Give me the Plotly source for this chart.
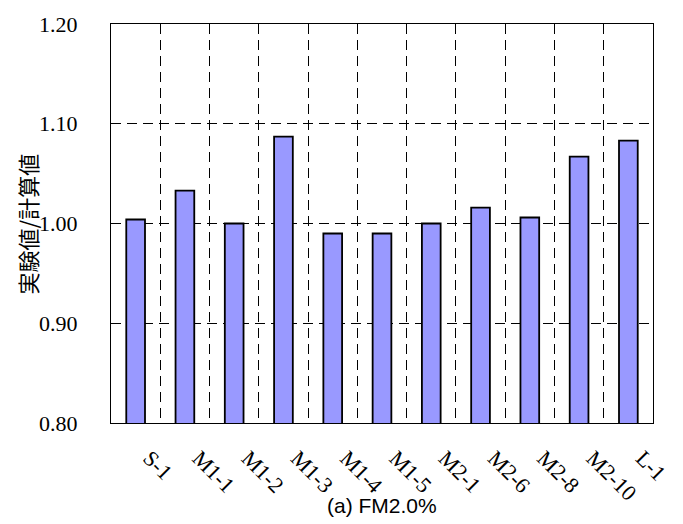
import plotly.graph_objects as go

categories = ["S-1", "M1-1", "M1-2", "M1-3", "M1-4", "M1-5", "M2-1", "M2-6", "M2-8", "M2-10", "L-1"]
ratios = [1.004, 1.033, 1.000, 1.087, 0.990, 0.990, 1.000, 1.016, 1.006, 1.067, 1.083]
y_ticks = [0.80, 0.90, 1.00, 1.10, 1.20]
y_title = "実験値/計算値"
x_title = "(a) FM2.0%"

serif = "Liberation Serif, Times New Roman, serif"

fig = go.Figure()
fig.add_trace(go.Bar(
    x=categories, y=ratios,
    marker=dict(color="#9999FF", line=dict(color="black", width=1.8)),
    hoverinfo="skip",
))
# invisible carrier for the label axis
fig.add_trace(go.Scatter(
    x=categories, y=ratios, xaxis="x2", mode="markers",
    marker=dict(opacity=0), hoverinfo="skip",
))

fig.update_layout(
    width=683, height=524,
    margin=dict(l=111, r=17, t=18, b=101),
    plot_bgcolor="white", paper_bgcolor="white",
    bargap=0.62, showlegend=False,
    font=dict(family=serif, size=21, color="black"),
    xaxis=dict(
        type="category", tickson="boundaries", range=[-0.5, 10.5],
        showgrid=True, gridcolor="black", gridwidth=1, griddash="10px,6px",
        showline=True, linecolor="black", linewidth=1, mirror=True,
        ticks="", showticklabels=False,
    ),
    xaxis2=dict(
        type="category", overlaying="x", side="bottom", anchor="y",
        categoryorder="array", categoryarray=categories,
        range=[-0.78, 10.22], showgrid=False, showline=False, zeroline=False,
        ticks="", tickangle=45, ticklabelstandoff=17,
        tickfont=dict(family=serif, size=22),
    ),
    yaxis=dict(
        range=[0.80, 1.20], tickvals=y_ticks, tickformat=".2f",
        showgrid=True, gridcolor="black", gridwidth=1, griddash="10px,6px",
        showline=True, linecolor="black", linewidth=1, mirror=True,
        ticks="", ticklabelstandoff=28, zeroline=False,
        tickfont=dict(family=serif, size=22),
    ),
    annotations=[
        dict(text=x_title, xref="paper", yref="paper", x=0.5, y=-0.208,
             xanchor="center", yanchor="middle", showarrow=False,
             font=dict(family="Liberation Sans, Arial, sans-serif", size=21)),
        dict(text=y_title, xref="paper", yref="paper", x=-0.155, y=0.5,
             xanchor="center", yanchor="middle", showarrow=False, textangle=-90,
             font=dict(family="Noto Sans CJK JP, sans-serif", size=22)),
    ],
)

fig.write_html("out.html", config={"displayModeBar": False},
               post_script="document.body.style.margin='0';")
